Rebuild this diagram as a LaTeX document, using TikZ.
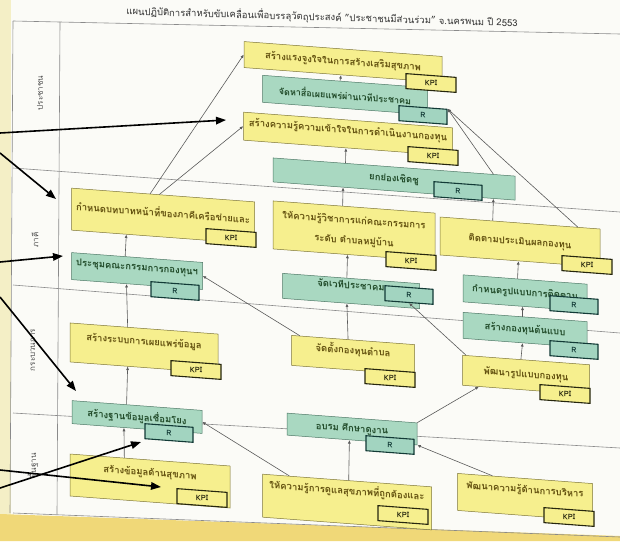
\documentclass[tikz,border=0pt]{standalone}
\usepackage{fontspec}
\setmainfont{Loma}[Script=Thai]
\usetikzlibrary{arrows.meta,calc}
\definecolor{pagebg}{HTML}{FBFBF7}
\definecolor{leftstrip}{HTML}{F4EFC6}
\definecolor{bottomstrip}{HTML}{F0D878}
\definecolor{yfill}{HTML}{F6EF8E}
\definecolor{yline}{HTML}{7E7638}
\definecolor{ytext}{HTML}{62500E}
\definecolor{gfill}{HTML}{A9D8C1}
\definecolor{gline}{HTML}{4E7866}
\definecolor{gtext}{HTML}{204A28}
\definecolor{kline}{HTML}{26260E}
\definecolor{rline}{HTML}{123A36}
\definecolor{rfill}{HTML}{A2D4C0}
\definecolor{cline}{HTML}{5A5A5A}
\definecolor{gridline}{HTML}{8A8A8A}
\begin{document}
\begin{tikzpicture}[x=1pt,y=-1pt,
  box/.style={draw, yslant=-0.075, inner sep=1pt, align=center, line width=0.5pt,
    font=\fontsize{9.5}{12}\selectfont\bfseries},
  ybox/.style={box, fill=yfill, draw=yline, text=ytext},
  gbox/.style={box, fill=gfill, draw=gline, text=gtext},
  lift/.style={text depth=#1},
  kpibox/.style={draw=kline, fill=yfill, line width=1.1pt, yslant=-0.075,
    minimum width=50pt, minimum height=15pt, inner sep=0pt,
    font=\fontsize{7.5}{8}\selectfont\bfseries, text=kline},
  rbox/.style={draw=rline, fill=rfill, line width=1.1pt, yslant=-0.075,
    minimum width=48pt, minimum height=15pt, inner sep=0pt,
    font=\fontsize{7.5}{8}\selectfont\bfseries, text=rline},
  conn/.style={draw=cline, line width=0.6pt, -{Latex[length=3.5pt,width=3pt]}},
  ann/.style={draw=black, line width=1.6pt, -{Triangle[length=10pt,width=7.5pt]}},
  grid/.style={draw=gridline, line width=0.6pt},
  lanelabel/.style={rotate=90, font=\fontsize{8}{9}\selectfont, text=black!70}]
\useasboundingbox (0,0) rectangle (620,541);
\fill[pagebg] (0,0) rectangle (620,541);
\fill[leftstrip] (0,0) rectangle (11,541);
\fill[bottomstrip] (0,514) -- (620,536) -- (620,541) -- (0,541) -- cycle;
% grid
\draw[grid] (13,21) -- (620,34);
\draw[grid] (13,168) -- (620,212);
\draw[grid] (13,285) -- (620,333);
\draw[grid] (13,413) -- (620,448);
\draw[grid] (13,513) -- (620,537);
\draw[grid] (13,21) -- (10,513);
\draw[grid] (60,22) -- (57,514);
% title
\node[yslant=-0.03, font=\fontsize{9.5}{10}\selectfont, text=black!80] (title) at (322,17)
  {แผนปฏิบัติการสำหรับขับเคลื่อนเพื่อบรรลุวัตถุประสงค์ "ประชาชนมีส่วนร่วม" จ.นครพนม ปี 2553};
% lane labels
\node[lanelabel] (l1) at (40,93) {ประชาชน};
\node[lanelabel] (l2) at (35,240) {ภาคี};
\node[lanelabel] (l3) at (33,350) {กระบวนการ};
\node[lanelabel] (l4) at (33,466) {พื้นฐาน};
% lane 1
\node[ybox, minimum width=198pt, minimum height=26pt] (y1) at (343,62) {สร้างแรงจูงใจในการสร้างเสริมสุขภาพ};
\node[gbox, font=\fontsize{9}{11}\selectfont\bfseries, minimum width=165pt, minimum height=27pt] (g1) at (345,95) {จัดหาสื่อเผยแพร่ผ่านเวทีประชาคม};
\node[ybox, lift=9pt, minimum width=209pt, minimum height=28pt] (y2) at (348,134) {สร้างความรู้ความเข้าใจในการดำเนินงานกองทุน};
% lane 2
\node[gbox, minimum width=242pt, minimum height=24pt] (ykk) at (394,179) {ยกย่องเชิดชู};
\node[ybox, lift=8pt, minimum width=183pt, minimum height=42pt] (kb) at (163,216) {กำหนดบทบาทหน้าที่ของภาคีเครือข่ายและ};
\node[ybox, font=\fontsize{9.5}{20}\selectfont\bfseries, minimum width=162pt, minimum height=48pt] (vw) at (354,231) {ให้ความรู้วิชาการแก่คณะกรรมการ\\ระดับ ตำบลหมู่บ้าน};
\node[ybox, minimum width=160pt, minimum height=38pt] (tt) at (520,242) {ติดตามประเมินผลกองทุน};
\node[gbox, lift=8pt, minimum width=131pt, minimum height=27pt] (pc) at (137,271) {ประชุมคณะกรรมการกองทุนฯ};
\node[gbox, lift=13pt, minimum width=137pt, minimum height=25pt] (jw) at (351,291) {จัดเวทีประชาคม};
\node[gbox, minimum width=124pt, minimum height=27pt] (kr) at (525,293) {กำหนดรูปแบบการติดตาม};
% lane 3
\node[gbox, minimum width=124pt, minimum height=26pt] (sk) at (525,330) {สร้างกองทุนต้นแบบ};
\node[ybox, lift=14pt, minimum width=148pt, minimum height=39pt] (sr) at (144,348) {สร้างระบบการเผยแพร่ข้อมูล};
\node[ybox, lift=12pt, minimum width=123pt, minimum height=30pt] (jt) at (353,355) {จัดตั้งกองทุนตำบล};
\node[ybox, minimum width=127pt, minimum height=30pt] (pr) at (526,375) {พัฒนารูปแบบกองทุน};
\node[gbox, minimum width=130pt, minimum height=23pt] (sd) at (137,417) {สร้างฐานข้อมูลเชื่อมโยง};
% lane 4
\node[gbox, minimum width=130pt, minimum height=22pt] (ab) at (352,429) {อบรม ศึกษาดูงาน};
\node[ybox, lift=18pt, minimum width=160pt, minimum height=42pt] (sh) at (150,481) {สร้างข้อมูลด้านสุขภาพ};
\node[ybox, lift=25pt, minimum width=169pt, minimum height=43pt] (hd) at (347,502) {ให้ความรู้การดูแลสุขภาพที่ถูกต้องและ};
\node[ybox, lift=16pt, minimum width=135pt, minimum height=37pt] (pk) at (525,497) {พัฒนาความรู้ด้านการบริหาร};
% KPI and R tags
\node[kpibox] (y1K) at (431,83) {KPI};
\node[rbox] (g1R) at (423,115) {R};
\node[kpibox] (y2K) at (433,156) {KPI};
\node[rbox] (ykkR) at (458,191) {R};
\node[kpibox] (kbK) at (231,238) {KPI};
\node[kpibox] (vwK) at (411,261) {KPI};
\node[kpibox] (ttK) at (587,265) {KPI};
\node[rbox] (pcR) at (175,291) {R};
\node[rbox] (jwR) at (409,295) {R};
\node[rbox] (krR) at (574,305) {R};
\node[rbox] (skR) at (574,350) {R};
\node[kpibox] (srK) at (196,370) {KPI};
\node[kpibox] (jtK) at (390,378) {KPI};
\node[kpibox] (prK) at (565,394) {KPI};
\node[rbox] (sdR) at (169,433) {R};
\node[rbox] (abR) at (390,445) {R};
\node[kpibox] (shK) at (202,498) {KPI};
\node[kpibox] (hdK) at (403,515) {KPI};
\node[kpibox] (pkK) at (569,517) {KPI};
% connectors
\draw[conn] ($(g1.north west)!0.47!(g1.north east)$) -- ($(y1.south west)!0.49!(y1.south east)$);
\draw[conn] ($(ykk.north west)!0.30!(ykk.north east)$) -- ($(y2.south west)!0.49!(y2.south east)$);
\draw[conn] ($(kb.north west)!0.43!(kb.north east)$) -- (y1.west);
\draw[conn] ($(kb.north west)!0.48!(kb.north east)$) -- (y2.west);
\draw[conn] ($(vw.north west)!0.43!(vw.north east)$) -- ($(ykk.south west)!0.29!(ykk.south east)$);
\draw[conn] ($(tt.north west)!0.33!(tt.north east)$) -- ($(ykk.south west)!0.91!(ykk.south east)$);
\draw[conn] ($(ykk.north west)!0.91!(ykk.north east)$) -- (g1R.north east);
\draw[conn] ($(tt.north west)!0.86!(tt.north east)$) -- (g1R.north east);
\draw[conn] ($(pc.north west)!0.41!(pc.north east)$) -- ($(kb.south west)!0.30!(kb.south east)$);
\draw[conn] ($(jw.north west)!0.47!(jw.north east)$) -- ($(vw.south west)!0.46!(vw.south east)$);
\draw[conn] ($(kr.north west)!0.44!(kr.north east)$) -- ($(tt.south west)!0.49!(tt.south east)$);
\draw[conn] ($(sk.north west)!0.48!(sk.north east)$) -- ($(kr.south west)!0.48!(kr.south east)$);
\draw[conn] ($(pr.north west)!0.46!(pr.north east)$) -- ($(sk.south west)!0.48!(sk.south east)$);
\draw[conn] ($(jt.north west)!0.46!(jt.north east)$) -- ($(jw.south west)!0.47!(jw.south east)$);
\draw[conn] ($(pr.north west)!0.03!(pr.north east)$) -- (jwR.south);
\draw[conn] ($(jt.north west)!0.07!(jt.north east)$) -- (pc.east);
\draw[conn] ($(sr.north west)!0.39!(sr.north east)$) -- ($(pc.south west)!0.42!(pc.south east)$);
\draw[conn] ($(sd.north west)!0.42!(sd.north east)$) -- ($(sr.south west)!0.39!(sr.south east)$);
\draw[conn] (ab.north east) -- ($(pr.south west)!0.13!(pr.south east)$);
\draw[conn] ($(hd.north west)!0.51!(hd.north east)$) -- ($(ab.south west)!0.48!(ab.south east)$);
\draw[conn] ($(hd.north west)!0.16!(hd.north east)$) -- (sd.east);
\draw[conn] ($(pk.north west)!0.26!(pk.north east)$) -- (ab.south east);
\draw[conn] ($(sh.north west)!0.34!(sh.north east)$) -- ($(sd.south west)!0.40!(sd.south east)$);
% annotation arrows
\coordinate (a1s) at (0,133); \coordinate (a1e) at (226,120);
\coordinate (a2s) at (0,153); \coordinate (a2e) at (56,199);
\coordinate (a3s) at (0,262); \coordinate (a3e) at (63,256);
\coordinate (a4s) at (0,297); \coordinate (a4e) at (76,391);
\coordinate (a5s) at (0,488); \coordinate (a5e) at (141,442);
\coordinate (a6s) at (0,470); \coordinate (a6e) at (161,487);
\draw[ann] (a1s) -- (a1e);
\draw[ann] (a2s) -- (a2e);
\draw[ann] (a3s) -- (a3e);
\draw[ann] (a4s) -- (a4e);
\draw[ann] (a5s) -- (a5e);
\draw[ann] (a6s) -- (a6e);
\end{tikzpicture}
\end{document}
